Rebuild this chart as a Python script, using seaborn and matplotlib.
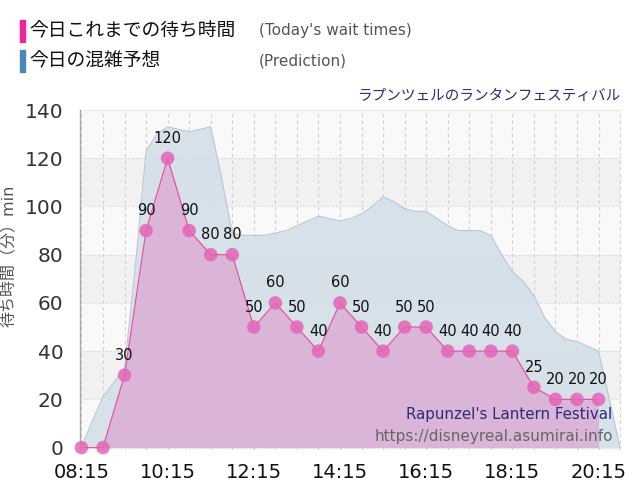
import matplotlib
matplotlib.use("Agg")
import matplotlib.pyplot as plt
import seaborn as sns
import pandas as pd

# 実績（30分おき）
wait_times = ["08:15", "08:45", "09:15", "09:45", "10:15", "10:45", "11:15", "11:45",
              "12:15", "12:45", "13:15", "13:45", "14:15", "14:45", "15:15", "15:45",
              "16:15", "16:45", "17:15", "17:45", "18:15", "18:45", "19:15", "19:45", "20:15"]
wait_values = [0, 0, 30, 90, 120, 90, 80, 80, 50, 60, 50, 40, 60, 50, 40, 50,
               50, 40, 40, 40, 40, 25, 20, 20, 20]

# 予想（15分おき）
pred_times = ["08:15", "08:30", "08:45", "09:00", "09:15", "09:30", "09:45", "10:00",
              "10:15", "10:30", "10:45", "11:00", "11:15", "11:30", "11:45", "12:00",
              "12:15", "12:30", "12:45", "13:00", "13:15", "13:30", "13:45", "14:00",
              "14:15", "14:30", "14:45", "15:00", "15:15", "15:30", "15:45", "16:00",
              "16:15", "16:30", "16:45", "17:00", "17:15", "17:30", "17:45", "18:00",
              "18:15", "18:30", "18:45", "19:00", "19:15", "19:30", "19:45", "20:00",
              "20:15", "20:30", "20:45"]
pred_values = [0, 11, 21, 27, 33, 75, 123, 130, 133, 132, 131, 132, 133, 112, 89, 88,
               88, 88, 89, 90, 92, 94, 96, 95, 94, 95, 97, 100, 104, 102, 99, 98,
               98, 95, 92, 90, 90, 90, 88, 80, 73, 69, 63, 54, 48, 45, 44, 42,
               40, 20, 0]

x_ticks = ["08:15", "10:15", "12:15", "14:15", "16:15", "18:15", "20:15"]
y_ticks = [0, 20, 40, 60, 80, 100, 120, 140]


def to_min(t):
    h, m = t.split(":")
    return int(h) * 60 + int(m)


df = pd.DataFrame({"t": [to_min(t) for t in wait_times], "wait": wait_values})
pred = pd.DataFrame({"t": [to_min(t) for t in pred_times], "wait": pred_values})

sns.set_style("white")
plt.rcParams["font.family"] = ["DejaVu Sans", "Noto Sans CJK JP"]

fig = plt.figure(figsize=(6.4, 5), dpi=100)
ax = fig.add_axes([0.125, 0.10, 0.845, 0.68])

x0, x1 = to_min("08:15"), to_min("20:45")

# 背景の帯
for i, lo in enumerate(range(0, 140, 20)):
    ax.axhspan(lo, lo + 20, color="#f8f9f8" if i % 2 == 0 else "#f1f1f1", zorder=0, lw=0)

# グリッド
for t in range(x0, x1 + 1, 30):
    ax.axvline(t, color="#d0d0d0", lw=0.8, ls=(0, (3, 3)), zorder=1)
for v in y_ticks:
    ax.axhline(v, color="#d4d4d4", lw=0.8, ls=(0, (1, 1.5)), zorder=1)

# 予想
ax.fill_between(pred["t"], 0, pred["wait"], color="#d5e0e9", alpha=0.95, zorder=2, lw=0)
sns.lineplot(data=pred, x="t", y="wait", ax=ax, color="#b9c8d6", lw=0.8, zorder=3)

# 実績
ax.fill_between(df["t"], 0, df["wait"], color="#dbb5d8", zorder=4, lw=0)
sns.lineplot(data=df, x="t", y="wait", ax=ax, color="#e8529e", lw=0.9, zorder=5)
sns.scatterplot(data=df, x="t", y="wait", ax=ax, color="#e466b6", s=95, alpha=0.85,
                edgecolor="none", zorder=6, clip_on=False)

for t, v in zip(df["t"], df["wait"]):
    if v > 0:
        ax.annotate(str(v), (t, v), xytext=(0, 9), textcoords="offset points",
                    ha="center", va="bottom", fontsize=10.5, color="#111111", zorder=7)

ax.set_xlim(x0 - 2, x1 + 1)
ax.set_ylim(-1, 140)
ax.set_xticks([to_min(t) for t in x_ticks])
ax.set_xticklabels(x_ticks, fontsize=14, color="#111111")
ax.set_yticks(y_ticks)
ax.set_yticklabels([str(v) for v in y_ticks], fontsize=14.5, color="#333333")
ax.tick_params(axis="x", length=0, pad=9)
ax.tick_params(axis="y", length=0, pad=12)
ax.set_xlabel("")
ax.set_ylabel("待ち時間（分）min", fontsize=11.5, color="#555555")
ax.yaxis.set_label_coords(-0.116, 0.57)

for s in ["top", "right", "bottom"]:
    ax.spines[s].set_visible(False)
ax.spines["left"].set_color("#a8a8b0")
ax.spines["left"].set_linewidth(1)

# タイトル・透かし
ax.text(1.0, 1.02, "ラプンツェルのランタンフェスティバル", transform=ax.transAxes,
        ha="right", va="bottom", fontsize=10.5, color="#2b2b78")
ax.text(0.985, 0.103, "Rapunzel's Lantern Festival", transform=ax.transAxes,
        ha="right", va="center", fontsize=10.8, color="#2b2b78", zorder=8)
ax.text(0.985, 0.041, "https://disneyreal.asumirai.info", transform=ax.transAxes,
        ha="right", va="center", fontsize=11, color="#666666", zorder=8)

# 凡例
fig.patches.append(plt.Rectangle((20 / 640, 1 - 42 / 500), 5 / 640, 22 / 500,
                                 transform=fig.transFigure, color="#f0259a"))
fig.patches.append(plt.Rectangle((20 / 640, 1 - 72 / 500), 5 / 640, 22 / 500,
                                 transform=fig.transFigure, color="#4a88b8"))
fig.text(29 / 640, 1 - 31 / 500, "今日これまでの待ち時間", fontsize=13.5, va="center", color="#111111")
fig.text(29 / 640, 1 - 61 / 500, "今日の混雑予想", fontsize=13.5, va="center", color="#111111")
fig.text(259 / 640, 1 - 31 / 500, "(Today's wait times)", fontsize=11, va="center", color="#555555")
fig.text(259 / 640, 1 - 61 / 500, "(Prediction)", fontsize=11, va="center", color="#555555")

fig.savefig("out.png", dpi=100)
